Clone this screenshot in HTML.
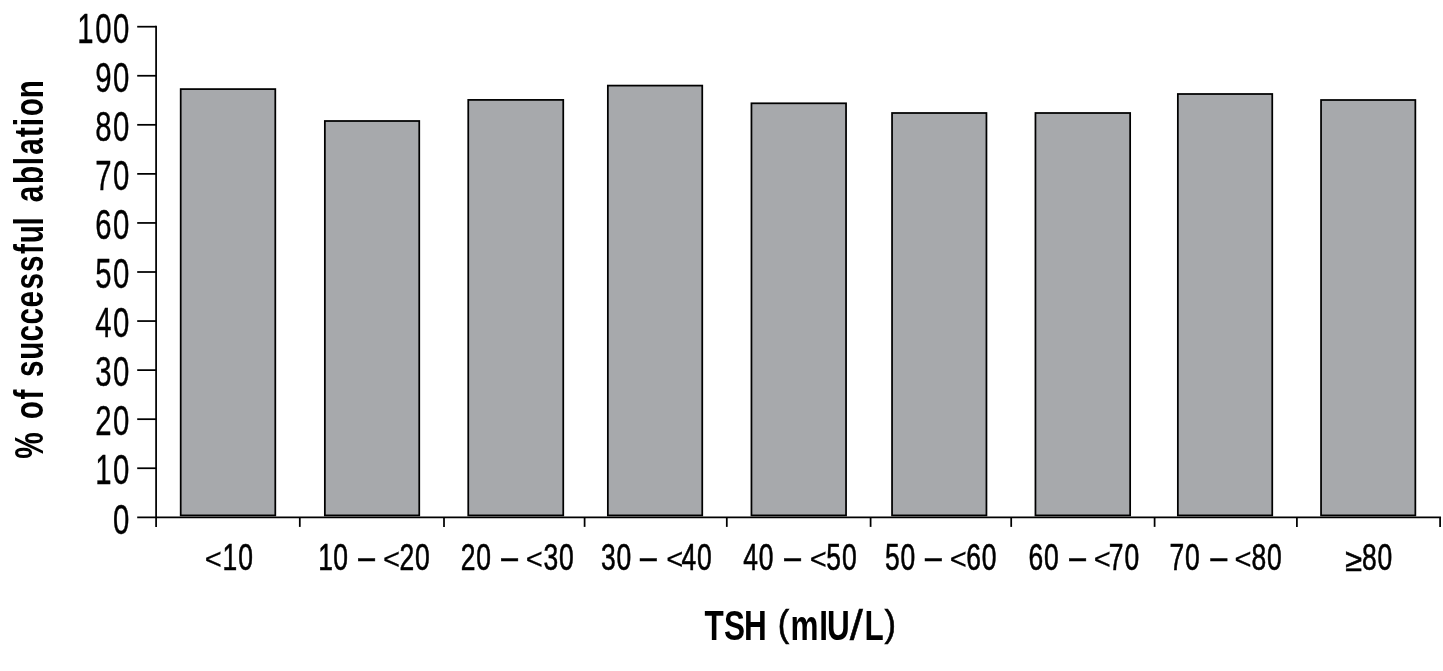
<!DOCTYPE html>
<html lang="en">
<head>
<meta charset="utf-8">
<title>TSH vs successful ablation</title>
<style>
html,body{margin:0;padding:0;background:#fff;}
body{width:1443px;height:671px;overflow:hidden;}
svg{display:block;}
text{font-family:"Liberation Sans",sans-serif;fill:#000;}
.yl{font-size:42.2px;letter-spacing:2.3px;text-anchor:end;stroke:#000;stroke-width:0.4;}
.xl{font-size:37.8px;letter-spacing:1.2px;stroke:#000;stroke-width:0.6;}
.xl .da{letter-spacing:0;}
.xl .lt{font-size:30px;letter-spacing:0;stroke-width:0.25;}
.xl .ge{font-size:32px;letter-spacing:0;}
.ti{font-size:42px;font-weight:bold;}
.pa{font-size:36.5px;font-weight:normal;stroke:#000;stroke-width:0.6;}
.yt{font-size:41px;}
.sl{font-weight:normal;stroke:#000;stroke-width:0.5;}
.bar{fill:#a7a9ac;stroke:#000;stroke-width:1.75;}
.ax{stroke:#000;stroke-width:1.75;fill:none;}
</style>
</head>
<body>
<svg width="1443" height="671" viewBox="0 0 1443 671">
<rect x="0" y="0" width="1443" height="671" fill="#fff"/>
<g class="bar">
<rect x="180.70" y="89.10" width="94.60" height="426.30"/>
<rect x="324.85" y="121.00" width="94.40" height="394.40"/>
<rect x="468.25" y="99.90" width="95.00" height="415.50"/>
<rect x="607.85" y="85.60" width="94.40" height="429.80"/>
<rect x="751.45" y="103.30" width="94.60" height="412.10"/>
<rect x="892.05" y="113.00" width="94.40" height="402.40"/>
<rect x="1035.45" y="113.00" width="94.70" height="402.40"/>
<rect x="1177.85" y="94.00" width="94.40" height="421.40"/>
<rect x="1321.05" y="100.00" width="94.30" height="415.40"/>
</g>
<g class="ax">
<path d="M156.10 25.82 V526.90"/>
<path d="M137.20 517.30 H1441.05"/>
<path d="M137.2 468.24 H156.1"/>
<path d="M137.2 419.18 H156.1"/>
<path d="M137.2 370.12 H156.1"/>
<path d="M137.2 321.06 H156.1"/>
<path d="M137.2 272.00 H156.1"/>
<path d="M137.2 222.94 H156.1"/>
<path d="M137.2 173.88 H156.1"/>
<path d="M137.2 124.82 H156.1"/>
<path d="M137.2 75.76 H156.1"/>
<path d="M137.2 26.70 H156.1"/>
<path d="M299.80 517.30 V526.9"/>
<path d="M444.00 517.30 V526.9"/>
<path d="M584.60 517.30 V526.9"/>
<path d="M726.80 517.30 V526.9"/>
<path d="M870.60 517.30 V526.9"/>
<path d="M1011.20 517.30 V526.9"/>
<path d="M1154.60 517.30 V526.9"/>
<path d="M1296.90 517.30 V526.9"/>
<path d="M1440.10 517.30 V526.9"/>
</g>
<g class="yl">
<text transform="translate(131.00 533.50) scale(0.695 1)">0</text>
<text transform="translate(131.00 484.44) scale(0.695 1)">10</text>
<text transform="translate(131.00 435.38) scale(0.695 1)">20</text>
<text transform="translate(131.00 386.32) scale(0.695 1)">30</text>
<text transform="translate(131.00 337.26) scale(0.695 1)">40</text>
<text transform="translate(131.00 288.20) scale(0.695 1)">50</text>
<text transform="translate(131.00 239.14) scale(0.695 1)">60</text>
<text transform="translate(131.00 190.08) scale(0.695 1)">70</text>
<text transform="translate(131.00 141.02) scale(0.695 1)">80</text>
<text transform="translate(131.00 91.96) scale(0.695 1)">90</text>
<text transform="translate(131.00 42.90) scale(0.695 1)">100</text>
</g>
<g class="xl">
<text transform="translate(206.10 569.90) scale(0.7 1)"><tspan class="lt" x="-1.79" dy="-1" textLength="24.3" lengthAdjust="spacingAndGlyphs">&lt;</tspan><tspan x="23.50 45.79" dy="1">10</tspan></text>
<text transform="translate(320.70 569.90) scale(0.7 1)"><tspan x="-3.64 17.93">10</tspan> <tspan class="da" x="53.50" dy="-0.75" textLength="23.8" lengthAdjust="spacingAndGlyphs">–</tspan> <tspan class="lt" x="88.93" dy="-0.25" textLength="24.3" lengthAdjust="spacingAndGlyphs">&lt;</tspan><tspan x="112.57" dy="1">20</tspan></text>
<text transform="translate(461.80 569.90) scale(0.7 1)"><tspan x="-1.43">20</tspan> <tspan class="da" x="56.36" dy="-0.75" textLength="23.8" lengthAdjust="spacingAndGlyphs">–</tspan> <tspan class="lt" x="91.50" dy="-0.25" textLength="24.3" lengthAdjust="spacingAndGlyphs">&lt;</tspan><tspan x="116.64" dy="1">30</tspan></text>
<text transform="translate(601.70 569.90) scale(0.7 1)"><tspan x="-1.07">30</tspan> <tspan class="da" x="54.79" dy="-0.75" textLength="23.8" lengthAdjust="spacingAndGlyphs">–</tspan> <tspan class="lt" x="92.07" dy="-0.25" textLength="24.3" lengthAdjust="spacingAndGlyphs">&lt;</tspan><tspan x="114.00" dy="1">40</tspan></text>
<text transform="translate(743.70 569.90) scale(0.7 1)"><tspan x="-0.71">40</tspan> <tspan class="da" x="57.79" dy="-0.75" textLength="23.8" lengthAdjust="spacingAndGlyphs">–</tspan> <tspan class="lt" x="94.50" dy="-0.25" textLength="24.3" lengthAdjust="spacingAndGlyphs">&lt;</tspan><tspan x="118.07" dy="1">50</tspan></text>
<text transform="translate(885.70 569.90) scale(0.7 1)"><tspan x="-1.07">50</tspan> <tspan class="da" x="56.07" dy="-0.75" textLength="23.8" lengthAdjust="spacingAndGlyphs">–</tspan> <tspan class="lt" x="91.50" dy="-0.25" textLength="24.3" lengthAdjust="spacingAndGlyphs">&lt;</tspan><tspan x="115.07" dy="1">60</tspan></text>
<text transform="translate(1029.80 569.90) scale(0.7 1)"><tspan x="-1.79">60</tspan> <tspan class="da" x="56.36" dy="-0.75" textLength="23.8" lengthAdjust="spacingAndGlyphs">–</tspan> <tspan class="lt" x="91.50" dy="-0.25" textLength="24.3" lengthAdjust="spacingAndGlyphs">&lt;</tspan><tspan x="112.93" dy="1">70</tspan></text>
<text transform="translate(1170.70 569.90) scale(0.7 1)"><tspan x="-1.79">70</tspan> <tspan class="da" x="56.93" dy="-0.75" textLength="23.8" lengthAdjust="spacingAndGlyphs">–</tspan> <tspan class="lt" x="91.21" dy="-0.25" textLength="24.3" lengthAdjust="spacingAndGlyphs">&lt;</tspan><tspan x="115.43" dy="1">80</tspan></text>
<text transform="translate(1345.90 569.90) scale(0.7 1)"><tspan class="ge" x="-1.07" dy="0.7" textLength="24" lengthAdjust="spacingAndGlyphs">≥</tspan><tspan x="23.00" dy="-0.7">80</tspan></text>
</g>
<g class="ti">
<text transform="translate(704.80 639.7) scale(0.75 1)" x="-0.47 25.46 52.26 74.26 97.15 114.16 152.66 163.08 193.33 212.79 239.73">TSH <tspan class="pa" textLength="15.3" lengthAdjust="spacingAndGlyphs" dy="-3.4">(</tspan><tspan dy="3.4">mIU<tspan class="sl" textLength="17.51" lengthAdjust="spacingAndGlyphs">/</tspan>L</tspan><tspan class="pa" textLength="15.3" lengthAdjust="spacingAndGlyphs" dy="-3.4">)</tspan></text>
<text class="yt" transform="translate(43.0 458.00) rotate(-90) scale(0.725 1)" x="-1.02 20.98 53.29 80.54 102.54 111.80 135.39 160.74 184.05 207.64 232.49 256.49 281.23 296.08 320.72 342.72 352.87 377.99 403.76 418.39 442.81 457.69 471.23 496.06">% of successful ablation</text>
</g>
</svg>
</body>
</html>
